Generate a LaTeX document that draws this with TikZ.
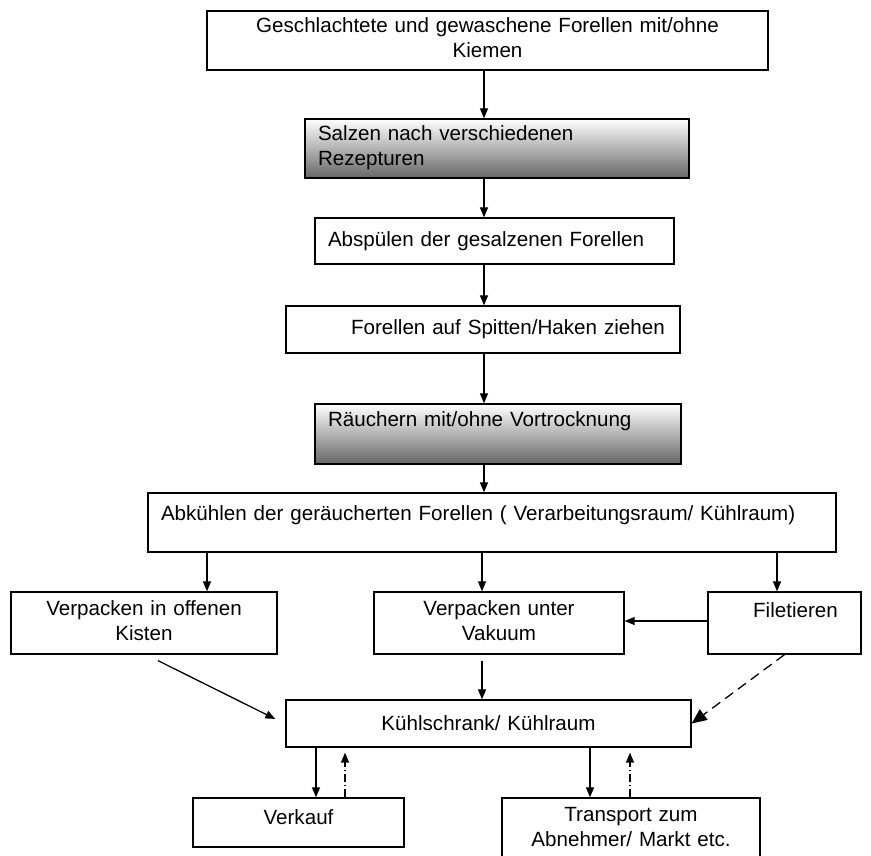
\documentclass[tikz,border=0pt]{standalone}
\usepackage{fontspec}
\setmainfont{Liberation Sans}
\usetikzlibrary{arrows.meta}

\begin{document}
\begin{tikzpicture}[x=0.5pt, y=0.5pt,
  font=\fontsize{10.3}{12.5}\selectfont,
  box/.style={draw, line width=0.65pt, inner xsep=6.5pt, inner ysep=0pt},
  shadebox/.style={box, top color=white, bottom color=black!60},
  arr/.style={line width=0.65pt, -{Triangle[length=5pt,width=4pt]}},
  bigarr/.style={line width=0.65pt, -{Triangle[length=7.5pt,width=6.5pt]}},
  dashdot/.style={arr, dash pattern=on 4pt off 1.5pt on 0.6pt off 1.5pt}]

\useasboundingbox (0,0) rectangle (871,855);

% columns for the arrows
\coordinate (spine) at (484,0);
\coordinate (colK) at (207,0);
\coordinate (colV) at (482,0);
\coordinate (colF) at (777,0);
\coordinate (verkDown) at (316,0);
\coordinate (verkUp) at (345,0);
\coordinate (transDown) at (590,0);
\coordinate (transUp) at (630,0);

% main chain
\node[box, minimum width=280.5pt, minimum height=29.5pt, text width=267.5pt, align=center] (schlacht) at (487.5,814.5)
  {\strut Geschlachtete und gewaschene Forellen mit/ohne\\\strut Kiemen};

\node[shadebox, minimum width=192pt, minimum height=29.5pt, text width=179pt, align=left] (salzen) at (497,706.5)
  {\strut Salzen nach verschiedenen\\\strut Rezepturen};

\node[box, minimum width=179.5pt, minimum height=23pt, text width=166.5pt, align=left] (abspuelen) at (494.5,614)
  {Abspülen der gesalzenen Forellen};

\node[box, minimum width=197pt, minimum height=23.5pt, text width=184pt, align=left] (spiess) at (483,525.5)
  {\hspace*{26pt}Forellen auf Spitten/Haken ziehen};

\node[shadebox, minimum width=183pt, text height=11.2pt, text depth=18.8pt, text width=170pt, align=left] (raeuchern) at (498,421)
  {Räuchern mit/ohne Vortrocknung};

\node[box, minimum width=344pt, text height=13.7pt, text depth=15.8pt, text width=331pt, align=left] (abkuehlen) at (492,332.5)
  {Abkühlen der geräucherten Forellen ( Verarbeitungsraum/ Kühlraum)};

% packing
\node[box, minimum width=133pt, minimum height=31pt, text width=120pt, align=center] (kisten) at (144,232)
  {\strut Verpacken in offenen\\\strut Kisten};

\node[box, minimum width=125pt, minimum height=31pt, text width=112pt, align=center] (vakuum) at (499,232)
  {\strut Verpacken unter\\\strut Vakuum};

\node[box, minimum width=76.5pt, text height=12.7pt, text depth=18.3pt, text width=63.5pt, align=center] (filet) at (784.5,232)
  {\hspace*{11pt}Filetieren};

\node[box, minimum width=202.5pt, minimum height=23.5pt, text width=189.5pt, align=center] (kuehl) at (488.5,131.5)
  {Kühlschrank/ Kühlraum};

% sale
\node[box, minimum width=105.5pt, text height=13pt, text depth=11.5pt, text width=92.5pt, align=center] (verkauf) at (298.5,32.5)
  {Verkauf};

\node[box, minimum width=129pt, minimum height=31pt, text width=116pt, align=center] (transport) at (631,26)
  {\strut Transport zum\hspace*{16pt}\\\strut Abnehmer/ Markt etc.\hspace*{16pt}};

% arrows
\draw[arr] (schlacht.south -| spine) -- (salzen.north -| spine);
\draw[arr] (salzen.south -| spine) -- (abspuelen.north -| spine);
\draw[arr] (abspuelen.south -| spine) -- (spiess.north -| spine);
\draw[arr] (spiess.south -| spine) -- (raeuchern.north -| spine);
\draw[arr] (raeuchern.south -| spine) -- (abkuehlen.north -| spine);

\draw[arr] (abkuehlen.south -| colK) -- (kisten.north -| colK);
\draw[arr] (abkuehlen.south -| colV) -- (vakuum.north -| colV);
\draw[arr] (abkuehlen.south -| colF) -- (filet.north -| colF);

\draw[arr] ([yshift=1pt]filet.west) -- ([yshift=1pt]vakuum.east);
\draw[arr] ([xshift=7pt,yshift=-3pt]kisten.south) -- ([xshift=-5pt,yshift=2.25pt]kuehl.west);
\draw[arr, shorten <=3pt] (vakuum.south -| colV) -- (kuehl.north -| colV);
\draw[bigarr, dash pattern=on 5pt off 3pt] (filet.south) -- (kuehl.east);

\draw[arr] (kuehl.south -| verkDown) -- (verkauf.north -| verkDown);
\draw[dashdot, shorten >=2.5pt] (verkauf.north -| verkUp) -- (kuehl.south -| verkUp);
\draw[arr] (kuehl.south -| transDown) -- (transport.north -| transDown);
\draw[dashdot, shorten >=2.5pt] (transport.north -| transUp) -- (kuehl.south -| transUp);

\end{tikzpicture}
\end{document}
